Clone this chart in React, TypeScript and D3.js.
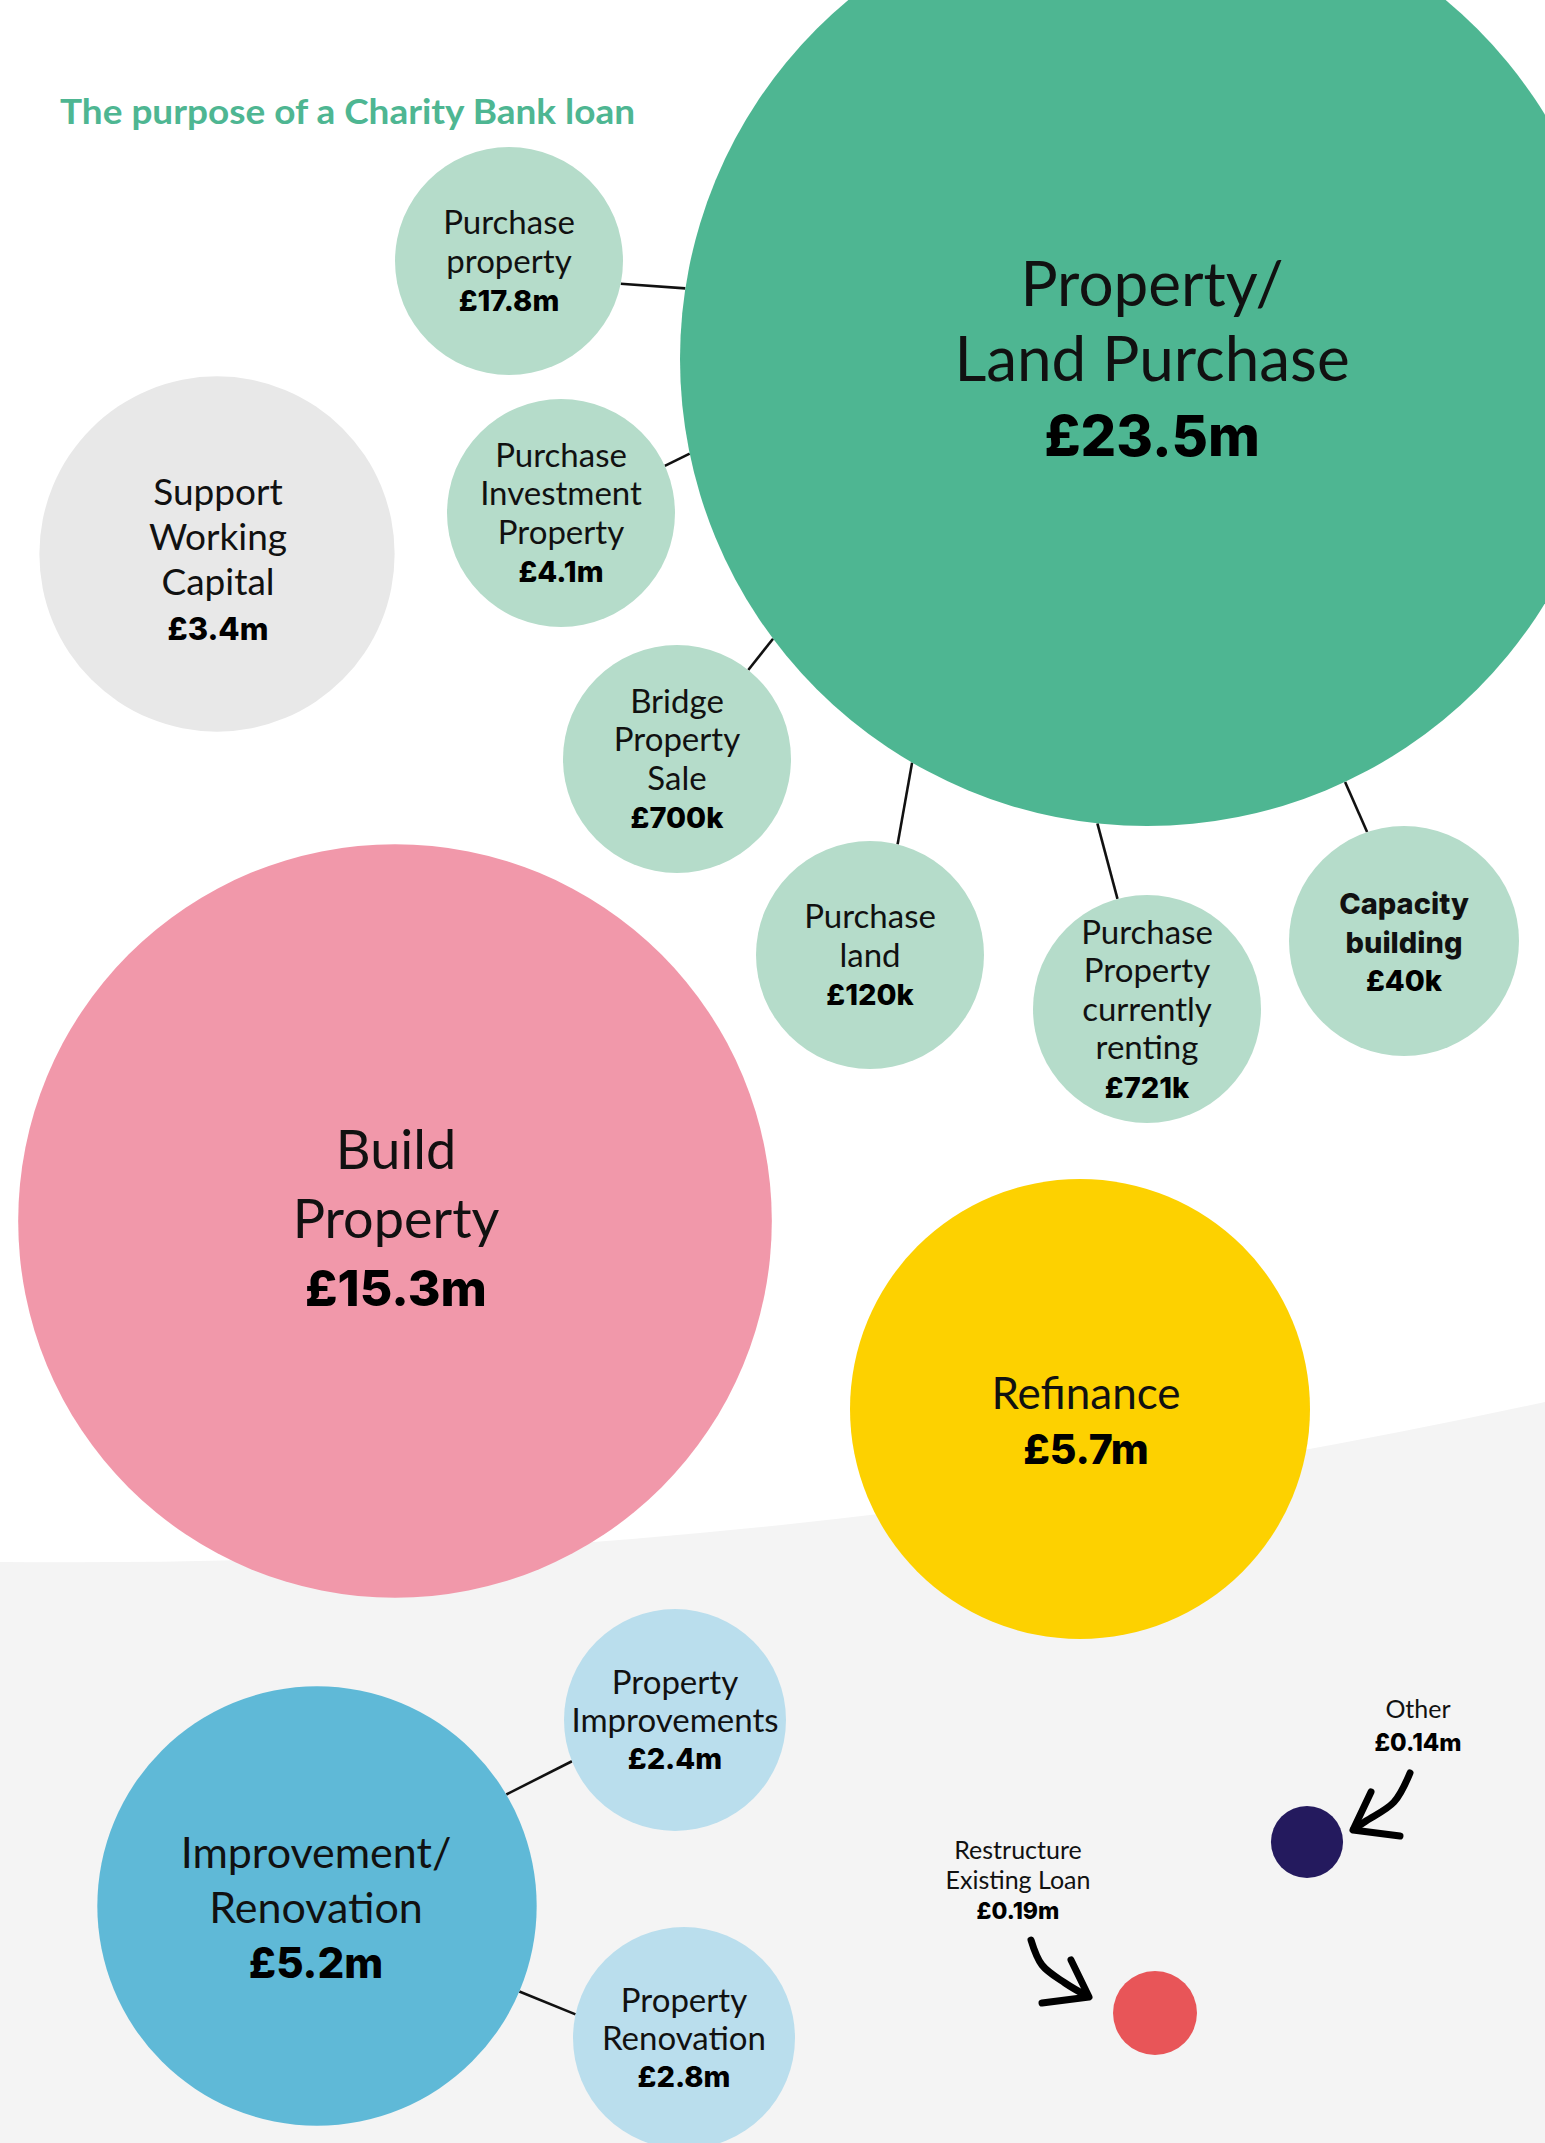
import React from "react";
import * as d3 from "d3";

// ---------- DATA ----------
const title = "The purpose of a Charity Bank loan";

const mainNames = [
  "Property/\nLand Purchase",
  "Build\nProperty",
  "Refinance",
  "Improvement/\nRenovation",
  "Support\nWorking\nCapital",
  "Restructure\nExisting Loan",
  "Other",
];
const mainValues = [23.5, 15.3, 5.7, 5.2, 3.4, 0.19, 0.14];
const mainValueLabels = ["£23.5m", "£15.3m", "£5.7m", "£5.2m", "£3.4m", "£0.19m", "£0.14m"];

const subNames = [
  "Purchase\nproperty",
  "Purchase\nInvestment\nProperty",
  "Bridge\nProperty\nSale",
  "Purchase\nland",
  "Purchase\nProperty\ncurrently\nrenting",
  "Capacity\nbuilding",
  "Property\nImprovements",
  "Property\nRenovation",
];
const subParents = [0, 0, 0, 0, 0, 0, 3, 3];
const subValueLabels = ["£17.8m", "£4.1m", "£700k", "£120k", "£721k", "£40k", "£2.4m", "£2.8m"];

// ---------- LAYOUT / STYLE ----------
const W = 1545;
const H = 2143;
const FONT = "Lato, 'Open Sans', sans-serif";
const VFONT = "Inter, Lato, sans-serif";

const mainColors = ["#4eb692", "#f198aa", "#fdd100", "#5fb9d7", "#e8e8e8", "#e85558", "#241a5e"];
const subColors = ["#b5dcca", "#b5dcca", "#b5dcca", "#b5dcca", "#b5dcca", "#b5dcca", "#badeed", "#badeed"];

// centres of the hand-placed bubbles
const mainCenters: [number, number][] = [
  [1147, 359],
  [395, 1221],
  [1080, 1409],
  [317, 1906],
  [217, 554],
  [1155, 2013],
  [1307, 1842],
];
// text block settings: [x, labelSize, valueSize, lineHeight, capHeight, dy]
const mainText: [number, number, number, number, number, number][] = [
  [1152, 62, 56, 75, 43, 0],
  [396, 54, 50, 68.5, 37, -2],
  [1086, 44, 41, 55, 30, 12],
  [316, 43, 42, 55, 30, 2],
  [218, 37, 31, 45, 25, 6],
];
const subCenters: [number, number][] = [
  [509, 261],
  [561, 513],
  [677, 759],
  [870, 955],
  [1147, 1009],
  [1404, 941],
  [675, 1720],
  [684, 2038],
];
const subRadius = [114, 114, 114, 114, 114, 115, 111, 111];
// connector angles (deg): [angle on sub circle, angle on parent circle]
const connectorAngles: [number, number][] = [
  [11.5, 188.7],
  [-24.4, 168.3],
  [-51.3, 143.2],
  [-76, 120.2],
  [-105, 96.1],
  [-108.7, 64.9],
  [158.2, -30.5],
  [192.3, 22.9],
];

const rScale = d3.scaleSqrt().domain([0, 23.5]).range([0, 467]);

function TextBlock({
  x,
  cy,
  lines,
  value,
  labelSize,
  valueSize,
  lh,
  capH,
  dy = 0,
  allBold = false,
}: {
  x: number;
  cy: number;
  lines: string[];
  value: string;
  labelSize: number;
  valueSize: number;
  lh: number;
  capH: number;
  dy?: number;
  allBold?: boolean;
}) {
  const n = lines.length + 1;
  const first = cy - ((n - 1) * lh) / 2 + capH / 2 + dy;
  return (
    <g>
      {lines.map((l, i) => (
        <text
          key={i}
          x={x}
          y={first + i * lh}
          textAnchor="middle"
          fontFamily={allBold ? VFONT : FONT}
          fontSize={allBold ? valueSize : labelSize}
          fontWeight={allBold ? 800 : 400}
          fill="#111"
        >
          {l}
        </text>
      ))}
      <text
        x={x}
        y={first + lines.length * lh}
        textAnchor="middle"
        fontFamily={VFONT}
        fontSize={valueSize}
        fontWeight={800}
        fill="#000"
      >
        {value}
      </text>
    </g>
  );
}

export default function App() {
  const rad = (a: number) => (a * Math.PI) / 180;

  // background band (gently curved)
  const bgPath = d3.path();
  bgPath.moveTo(0, 1562);
  bgPath.quadraticCurveTo(772, 1570, W, 1402);
  bgPath.lineTo(W, H);
  bgPath.lineTo(0, H);
  bgPath.closePath();

  const arrowLine = d3.line().curve(d3.curveCatmullRom);
  const otherShaft = arrowLine([
    [1410, 1773],
    [1394, 1802],
    [1366, 1821],
    [1354, 1829],
  ]);
  const otherHead = d3.line()([
    [1371, 1792],
    [1353, 1830],
    [1400, 1836],
  ]);
  const restShaft = arrowLine([
    [1031, 1940],
    [1042, 1965],
    [1065, 1983],
    [1087, 1996],
  ]);
  const restHead = d3.line()([
    [1071, 1960],
    [1089, 1997],
    [1042, 2003],
  ]);

  return (
    <svg
      width={W}
      height={H}
      viewBox={`0 0 ${W} ${H}`}
      style={{ position: "absolute", left: 0, top: 0, background: "#fff" }}
    >
      <rect x={0} y={0} width={W} height={H} fill="#fff" />
      <path d={bgPath.toString()} fill="#f4f4f4" />

      {/* connectors */}
      {subCenters.map((c, i) => {
        const p = mainCenters[subParents[i]];
        const pr = rScale(mainValues[subParents[i]]);
        const [a1, a2] = connectorAngles[i];
        const x1 = c[0] + subRadius[i] * Math.cos(rad(a1));
        const y1 = c[1] + subRadius[i] * Math.sin(rad(a1));
        const x2 = p[0] + pr * Math.cos(rad(a2));
        const y2 = p[1] + pr * Math.sin(rad(a2));
        return <line key={i} x1={x1} y1={y1} x2={x2} y2={y2} stroke="#111" strokeWidth={2.6} />;
      })}

      {/* main bubbles */}
      {mainValues.map((v, i) => (
        <circle key={i} cx={mainCenters[i][0]} cy={mainCenters[i][1]} r={rScale(v)} fill={mainColors[i]} />
      ))}

      {/* sub bubbles */}
      {subCenters.map((c, i) => (
        <circle key={i} cx={c[0]} cy={c[1]} r={subRadius[i]} fill={subColors[i]} />
      ))}

      {/* main labels */}
      {mainText.map((t, i) => (
        <TextBlock
          key={i}
          x={t[0]}
          cy={mainCenters[i][1]}
          lines={mainNames[i].split("\n")}
          value={mainValueLabels[i]}
          labelSize={t[1]}
          valueSize={t[2]}
          lh={t[3]}
          capH={t[4]}
          dy={t[5]}
        />
      ))}

      {/* sub labels */}
      {subCenters.map((c, i) => (
        <TextBlock
          key={i}
          x={c[0]}
          cy={c[1]}
          lines={subNames[i].split("\n")}
          value={subValueLabels[i]}
          labelSize={33}
          valueSize={29}
          lh={i >= 6 ? 37.5 : 38.5}
          capH={23}
          allBold={i === 5}
        />
      ))}

      {/* small bubbles' external labels */}
      <TextBlock
        x={1418}
        cy={1725}
        lines={mainNames[6].split("\n")}
        value={mainValueLabels[6]}
        labelSize={25}
        valueSize={24}
        lh={33}
        capH={18}
      />
      <TextBlock
        x={1018}
        cy={1880}
        lines={mainNames[5].split("\n")}
        value={mainValueLabels[5]}
        labelSize={25}
        valueSize={23}
        lh={30}
        capH={18}
      />

      {/* hand-drawn arrows */}
      <g fill="none" stroke="#000" strokeWidth={7} strokeLinecap="round" strokeLinejoin="round">
        <path d={otherShaft || ""} />
        <path d={otherHead || ""} />
        <path d={restShaft || ""} />
        <path d={restHead || ""} />
      </g>

      {/* title */}
      <text
        x={60}
        y={124}
        fontFamily={FONT}
        fontSize={34}
        fontWeight={700}
        fill="#4eb692"
        textLength={575}
        lengthAdjust="spacingAndGlyphs"
      >
        {title}
      </text>
    </svg>
  );
}
